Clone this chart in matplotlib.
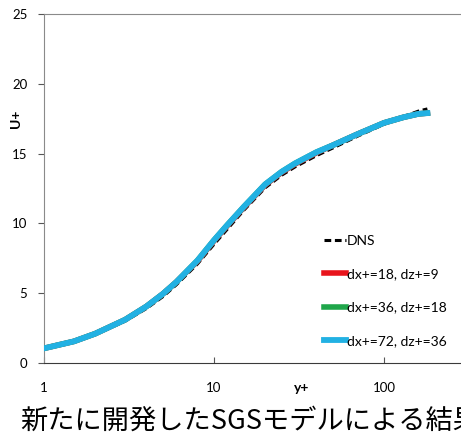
import matplotlib
matplotlib.use("Agg")
import matplotlib.pyplot as plt

# mean velocity profile, wall units
yp = [1, 1.5, 2, 3, 4, 5, 6, 8, 10, 12, 15, 20, 25, 30, 40, 50, 70, 100, 130, 160, 180]
u_dns = [1.0, 1.5, 2.05, 3.0, 3.9, 4.75, 5.6, 7.1, 8.5, 9.6, 10.95, 12.55, 13.45, 14.05, 14.85, 15.4, 16.25, 17.1, 17.65, 18.05, 18.2]
u_18 = [1.05, 1.55, 2.1, 3.1, 4.05, 4.95, 5.8, 7.3, 8.75, 9.85, 11.15, 12.75, 13.65, 14.25, 15.05, 15.6, 16.4, 17.2, 17.6, 17.85, 17.9]
u_36 = [1.05, 1.55, 2.1, 3.1, 4.05, 4.95, 5.8, 7.35, 8.8, 9.9, 11.2, 12.8, 13.7, 14.3, 15.1, 15.6, 16.4, 17.2, 17.6, 17.85, 17.9]
u_72 = [1.05, 1.55, 2.1, 3.1, 4.05, 4.95, 5.8, 7.35, 8.8, 9.9, 11.2, 12.8, 13.7, 14.3, 15.1, 15.6, 16.4, 17.2, 17.6, 17.85, 17.9]

labels = ["DNS", "dx+=18, dz+=9", "dx+=36, dz+=18", "dx+=72, dz+=36"]
yticks = [0, 5, 10, 15, 20, 25]
xticks = [1, 10, 100]

plt.rcParams["font.family"] = ["Lato", "DejaVu Sans"]

fig = plt.figure(figsize=(4.61, 4.34), dpi=100)
# x axis runs to 1000, the right part falls outside the figure
ax = fig.add_axes([44 / 461, 71 / 434, 510 / 461, 349 / 434])

ax.plot(yp, u_dns, color="black", lw=2.2, ls=(0, (2.2, 1.2)), label=labels[0], zorder=1)
ax.plot(yp, u_18, color="#e8141c", lw=4, label=labels[1], zorder=2)
ax.plot(yp, u_36, color="#1fa64a", lw=4, label=labels[2], zorder=3)
ax.plot(yp, u_72, color="#22b1e3", lw=4.2, label=labels[3], zorder=4)

ax.set_xscale("log")
ax.set_xlim(1, 1000)
ax.set_ylim(0, 25)
ax.set_xticks(xticks)
ax.set_xticklabels([str(t) for t in xticks])
ax.minorticks_off()
ax.set_yticks(yticks)

for s in ["top", "left", "right"]:
    ax.spines[s].set_color("#8a8a8a")
ax.spines["bottom"].set_color("#3a3a3a")
ax.tick_params(axis="x", direction="in", length=4, pad=14, labelsize=9.5, color="#555555")
ax.tick_params(axis="y", direction="out", length=4, pad=8, labelsize=9.5, color="#555555")

ax.set_ylabel("U+", fontsize=10, fontweight="bold")
ax.yaxis.set_label_coords(-0.043, 0.70)
ax.set_xlabel("y+", fontsize=10, fontweight="bold")
ax.xaxis.set_label_coords(0.506, -0.055)

handles, labs = ax.get_legend_handles_labels()
leg = ax.legend(handles, labs, loc="upper left", bbox_to_anchor=(318 / 461, 1 - 229 / 434),
                bbox_transform=fig.transFigure, frameon=False, fontsize=10,
                handlelength=1.6, handletextpad=0.1, labelspacing=1.55, borderaxespad=0)

fig.text(20 / 461, 13 / 434, "新たに開発したSGSモデルによる結果", fontsize=19.6,
         family=["Noto Sans CJK JP", "DejaVu Sans"], va="center", ha="left")

fig.savefig("out.png", dpi=100)
